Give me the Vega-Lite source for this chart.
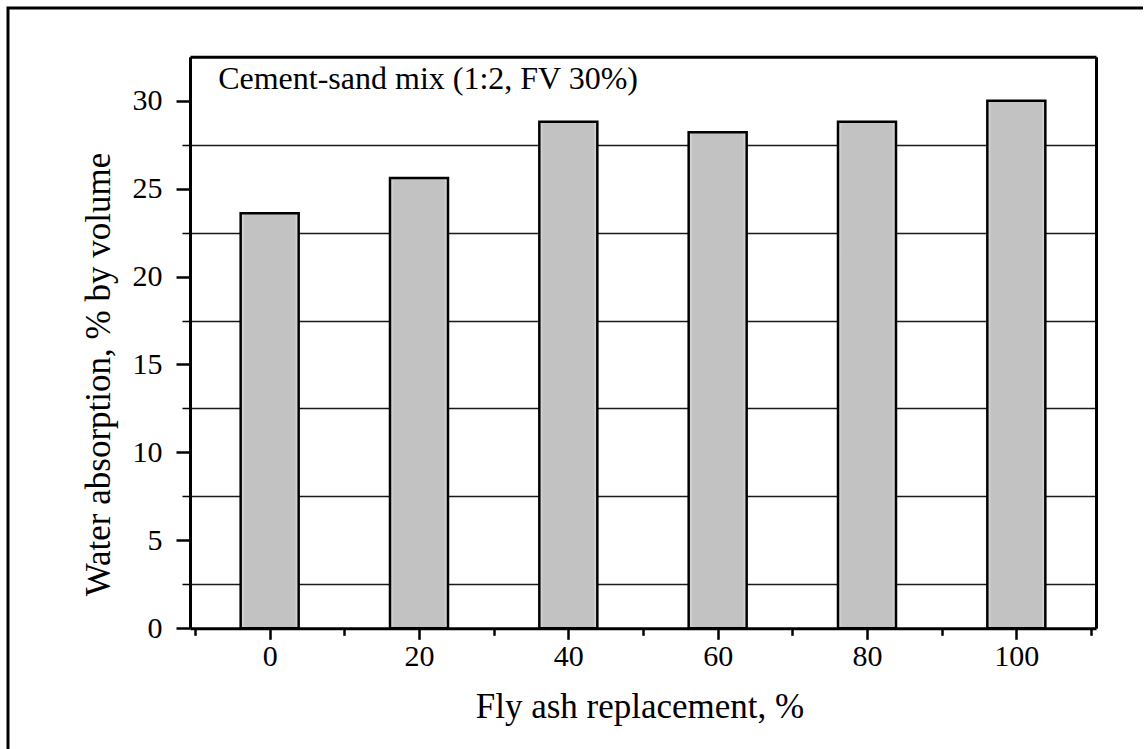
{
  "$schema": "https://vega.github.io/schema/vega-lite/v6.json",
  "width": 1135,
  "height": 741,
  "autosize": "none",
  "padding": {"left": 8, "top": 8, "right": 2, "bottom": 0},
  "background": "white",
  "config": {
    "view": {"stroke": "black", "strokeWidth": 3, "strokeDash": [1135, 1876, 741]},
    "font": "Liberation Serif",
    "axis": {
      "labelFont": "Liberation Serif",
      "titleFont": "Liberation Serif",
      "labelColor": "black",
      "titleColor": "black",
      "tickColor": "black",
      "domainColor": "black",
      "titleFontWeight": "normal"
    }
  },
  "layer": [
    {
      "data": {"values": [
        {"fly_ash": 0, "absorption": 23.6},
        {"fly_ash": 20, "absorption": 25.6},
        {"fly_ash": 40, "absorption": 28.8},
        {"fly_ash": 60, "absorption": 28.2},
        {"fly_ash": 80, "absorption": 28.8},
        {"fly_ash": 100, "absorption": 30.0}
      ]},
      "mark": {
        "type": "bar",
        "width": 58,
        "fill": {"gradient": "linear", "x1": 0, "x2": 1, "y1": 0, "y2": 0, "stops": [
          {"offset": 0, "color": "#e2e2e2"},
          {"offset": 0.07, "color": "#c2c2c2"},
          {"offset": 0.93, "color": "#c2c2c2"},
          {"offset": 1, "color": "#e2e2e2"}
        ]},
        "stroke": "black",
        "strokeWidth": 2.5
      },
      "encoding": {
        "x": {
          "field": "fly_ash", "type": "quantitative",
          "scale": {"domain": [-10, 110], "range": [182, 1088], "nice": false, "zero": false},
          "axis": {
            "orient": "bottom", "offset": -120.7,
            "values": [-10, 0, 10, 20, 30, 40, 50, 60, 70, 80, 90, 100, 110],
            "labelExpr": "datum.value % 20 == 0 && datum.value >= 0 && datum.value <= 100 ? datum.label : ''",
            "tickSize": {"condition": {"test": "datum.value % 20 == 0 && datum.value >= 0 && datum.value <= 100", "value": 11}, "value": 7},
            "tickWidth": 2.5, "domainWidth": 3,
            "labelFontSize": 30, "labelPadding": 2, "grid": false, "labelOverlap": false, "labelFlush": false,
            "title": "Fly ash replacement, %", "titleFontSize": 35,
            "titleBaseline": "alphabetic", "titleY": 88.7, "titleX": 631.5
          }
        },
        "y": {
          "field": "absorption", "type": "quantitative",
          "scale": {"domain": [0, 32.5], "range": [620.3, 48.7], "nice": false},
          "axis": {
            "orient": "left", "offset": -182,
            "values": [0, 2.5, 5, 7.5, 10, 12.5, 15, 17.5, 20, 22.5, 25, 27.5, 30],
            "labelExpr": "datum.value % 5 == 0 ? datum.label : ''",
            "tickSize": {"condition": {"test": "datum.value % 5 == 0", "value": 14}, "value": 8},
            "tickWidth": {"condition": {"test": "datum.value % 5 == 0", "value": 2.5}, "value": 1.5},
            "domainWidth": 3,
            "labelFontSize": 30, "labelPadding": 14, "labelOverlap": false, "labelFlush": false,
            "grid": true, "gridColor": "#1a1a1a", "gridWidth": 1.5,
            "gridOpacity": {"condition": {"test": "datum.value % 5 == 0", "value": 0}, "value": 1},
            "title": "Water absorption, % by volume", "titleFontSize": 35,
            "titleAngle": 270, "titleAlign": "center", "titleBaseline": "middle",
            "titleX": -92, "titleY": 366
          }
        }
      }
    },
    {
      "data": {"values": [{"note": "Cement-sand mix (1:2, FV 30%)"}]},
      "mark": {"type": "text", "align": "left", "baseline": "alphabetic", "fontSize": 32, "font": "Liberation Serif", "color": "black"},
      "encoding": {
        "x": {
          "datum": -6.9, "type": "quantitative",
          "axis": {
            "orient": "top", "offset": -48.7,
            "ticks": false, "labels": false, "domain": true, "domainWidth": 3,
            "grid": false, "title": null
          }
        },
        "y": {
          "datum": 30.64, "type": "quantitative",
          "axis": {
            "orient": "right", "offset": -47,
            "ticks": false, "labels": false, "domain": true, "domainWidth": 3,
            "grid": false, "title": null
          }
        },
        "text": {"field": "note", "type": "nominal"}
      }
    }
  ],
  "resolve": {"axis": {"x": "independent", "y": "independent"}}
}
